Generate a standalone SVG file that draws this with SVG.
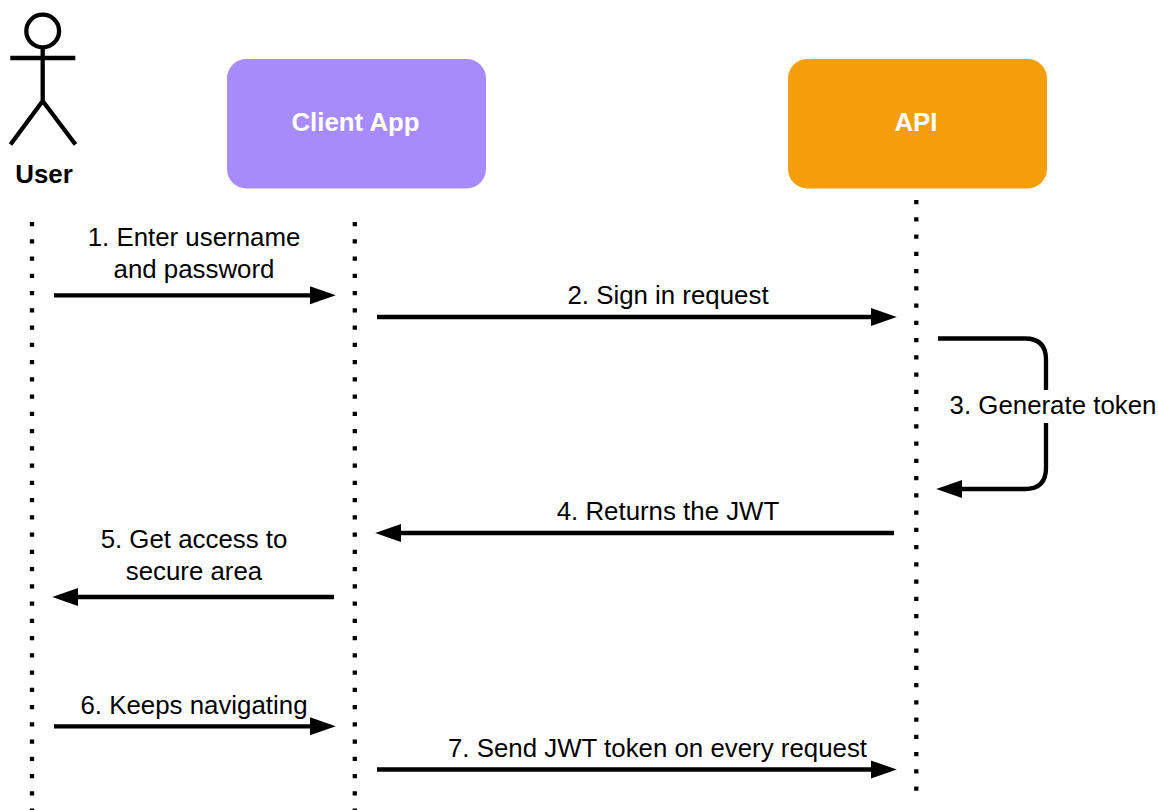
<svg xmlns="http://www.w3.org/2000/svg" width="1158" height="810" viewBox="0 0 1158 810">
<style>
text{font-family:"Liberation Sans",Arial,sans-serif;fill:#000;font-size:25.85px;text-anchor:middle}
.b{font-weight:bold}
.w{fill:#fff;font-weight:bold}
.l{fill:none;stroke:#000;stroke-width:4.3}
.d{fill:none;stroke:#000;stroke-width:4.3;stroke-dasharray:4.3 12.95}
</style>
<defs>
<marker id="a" markerUnits="userSpaceOnUse" markerWidth="27" markerHeight="20" refX="15" refY="10" orient="auto"><path d="M0 1L25.8 10L0 19Z" fill="#000"/></marker>
</defs>
<g id="user"><circle class="l" cx="42.7" cy="31" r="16.4"/><path class="l" d="M42.7 47.5V101M10.3 58H75.3M42.7 101L10.5 144.5M42.7 101L75.5 144.5"/><text class="b" x="44" y="183">User</text></g>
<g id="client-app"><rect x="227" y="59" width="259" height="129.4" rx="19.4" fill="#a78bfa"/><text class="w" x="355.5" y="131">Client App</text></g>
<g id="api"><rect x="788" y="59" width="259" height="129.4" rx="19.4" fill="#f59e0b"/><text class="w" x="916" y="131">API</text></g>
<g id="connectors">
<path class="d" d="M32 222V810M354.8 222V810M916.3 200V795"/>
<path class="l" marker-end="url(#a)" d="M54 295.3H325"/>
<path class="l" marker-end="url(#a)" d="M377 317H886"/>
<path class="l" marker-end="url(#a)" d="M938 338.5H1025Q1046 338.5 1046 359.5V468Q1046 489 1025 489H947"/>
<path class="l" marker-end="url(#a)" d="M894 533H386"/>
<path class="l" marker-end="url(#a)" d="M334 597H63"/>
<path class="l" marker-end="url(#a)" d="M54 726.3H325"/>
<path class="l" marker-end="url(#a)" d="M377 769.5H886"/>
</g>
<g id="labels">
<text x="194" y="246">1. Enter username</text><text x="194" y="278">and password</text>
<text x="668" y="304">2. Sign in request</text>
<rect x="950" y="390" width="206" height="33" fill="#fff"/><text x="1053" y="414">3. Generate token</text>
<text x="668" y="520">4. Returns the JWT</text>
<text x="194" y="548">5. Get access to</text><text x="194" y="580">secure area</text>
<text x="194" y="714">6. Keeps navigating</text>
<text x="657.5" y="757">7. Send JWT token on every request</text>
</g>
</svg>
